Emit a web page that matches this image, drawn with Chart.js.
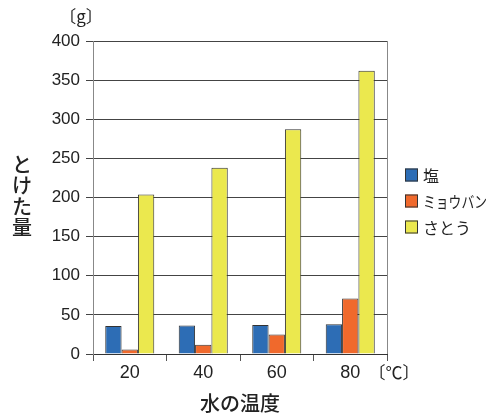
<!DOCTYPE html>
<html>
<head>
<meta charset="utf-8">
<script src="https://cdn.jsdelivr.net/npm/chart.js@4.4.1/dist/chart.umd.min.js"></script>
<style>
  html, body { margin: 0; padding: 0; background: #fff; }
  #wrap { width: 492px; height: 416px; }
</style>
</head>
<body>
<div id="wrap"><canvas id="chart"></canvas></div>
<script>
const temps = ['20', '40', '60', '80'];
const salt = [35.8, 36.3, 37.1, 38.0];
const alum = [5.9, 11.7, 24.8, 71.0];
const sugar = [203.9, 238.1, 287.3, 362.1];
const seriesNames = ['塩', 'ミョウバン', 'さとう'];
const seriesColors = ['#2d6db5', '#f0692c', '#ebe84e'];
const yTitle = ['と', 'け', 'た', '量'];

const latin = "'Liberation Sans', Arial, 'Noto Sans CJK JP', sans-serif";
const jp = "'Noto Sans CJK JP', 'Liberation Sans', sans-serif";

// legend, units and the vertical axis title
const extras = {
    id: 'extras',
    afterDraw(chart) {
        const ctx = chart.ctx;
        const area = chart.chartArea;
        ctx.save();
        ctx.fillStyle = '#222';
        ctx.textBaseline = 'middle';

        // units
        ctx.font = '17px ' + jp;
        ctx.textAlign = 'center';
        ctx.fillText('〔g〕', 81, 17);
        ctx.fillText('〔℃〕', 394, 373);

        // vertical title
        ctx.font = '500 20px ' + jp;
        yTitle.forEach((ch, i) => ctx.fillText(ch, 22, 164 + i * 21));

        // legend
        ctx.textAlign = 'left';
        ctx.font = '16px ' + jp;
        const lx = area.right + 18;
        chart.data.datasets.forEach((ds, i) => {
            const cy = 175 + i * 26;
            ctx.fillStyle = ds.backgroundColor;
            ctx.fillRect(lx, cy - 6.5, 13, 13);
            ctx.strokeStyle = '#333';
            ctx.lineWidth = 1;
            ctx.strokeRect(lx + 0.5, cy - 6, 12, 12);
            ctx.fillStyle = '#222';
            if (ds.label.length > 3) {
                ctx.fillText(ds.label, lx + 18, cy + 1, 64);
            } else {
                ctx.fillText(ds.label, lx + 18, cy + 1);
            }
        });
        ctx.restore();
    }
};

const ctx = document.getElementById('chart').getContext('2d');
new Chart(ctx, {
    type: 'bar',
    data: {
        labels: temps,
        datasets: [
            { label: seriesNames[0], data: salt, backgroundColor: seriesColors[0] },
            { label: seriesNames[1], data: alum, backgroundColor: seriesColors[1] },
            { label: seriesNames[2], data: sugar, backgroundColor: seriesColors[2] }
        ]
    },
    options: {
        responsive: true,
        maintainAspectRatio: false,
        animation: false,
        layout: { padding: { top: 41, right: 105, left: 0, bottom: 0 } },
        datasets: {
            bar: {
                borderColor: '#333',
                borderWidth: 1,
                categoryPercentage: 0.667,
                barPercentage: 1
            }
        },
        plugins: {
            legend: { display: false },
            tooltip: { enabled: false }
        },
        scales: {
            x: {
                grid: {
                    color: c => (c.index === 0 || c.index === undefined) ? '#888' : 'rgba(0,0,0,0)',
                    tickColor: '#555',
                    tickLength: 7
                },
                border: { color: '#333' },
                ticks: { color: '#222', font: { family: latin, size: 18 }, padding: 1 },
                title: {
                    display: true,
                    text: '水の温度',
                    color: '#222',
                    font: { family: jp, size: 20, weight: '500' },
                    padding: { top: 0, bottom: 1 }
                },
                afterFit: s => { s.height = 62; }
            },
            y: {
                min: 0,
                max: 400,
                ticks: { stepSize: 50, color: '#222', font: { family: latin, size: 17 }, padding: 6 },
                grid: { color: '#444', tickLength: 7 },
                border: { color: '#888' },
                afterFit: s => { s.width = 93; }
            }
        }
    },
    plugins: [extras]
});
</script>
</body>
</html>
